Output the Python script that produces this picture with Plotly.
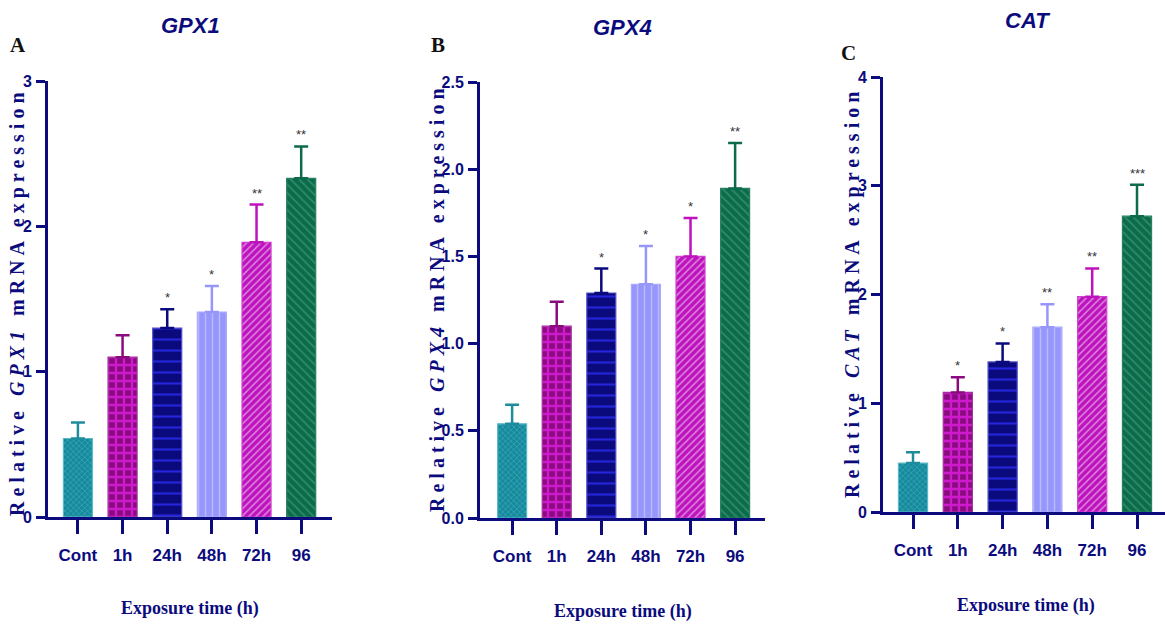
import plotly.graph_objects as go

categories = ["Cont", "1h", "24h", "48h", "72h", "96"]

gpx1_mean = [0.54, 1.10, 1.30, 1.41, 1.89, 2.33]
gpx1_err = [0.11, 0.15, 0.13, 0.18, 0.26, 0.22]
gpx1_sig = ["", "", "*", "*", "**", "**"]

gpx4_mean = [0.54, 1.10, 1.29, 1.34, 1.50, 1.89]
gpx4_err = [0.11, 0.14, 0.14, 0.22, 0.22, 0.26]
gpx4_sig = ["", "", "*", "*", "*", "**"]

cat_mean = [0.45, 1.10, 1.38, 1.70, 1.98, 2.72]
cat_err = [0.10, 0.14, 0.17, 0.21, 0.26, 0.29]
cat_sig = ["", "*", "*", "**", "**", "***"]

NAVY = "#0B0B7E"
bg_colors = ["#17899C", "#8A0B7F", "#0A0A7C", "#9797FB", "#BE12BE", "#0B6B4B"]
fg_colors = ["#35A5B5", "#CC1ACC", "#2424D8", "#B9B9FF", "#DC86DC", "#2E8C68"]
line_colors = ["#5BB8C6", "#A0309A", "#5050C8", "#AAAAFF", "#D040D0", "#2A8060"]
err_colors = ["#1E8C9C", "#8A0B7F", "#0A0A7C", "#9797FB", "#BE12BE", "#0B6B4B"]
shapes = ["x", "+", "-", "|", "/", "\\"]
psizes = [4, 8, 11, 7, 5, 6]
psolid = [0.35, 0.5, 0.2, 0.2, 0.3, 0.3]

panels = [
    dict(mean=gpx1_mean, err=gpx1_err, sig=gpx1_sig, gene="GPX1", letter="A",
         xd=[48/1165, 332/1165], yd=[1-517/627, 1-81/627], xr=[-0.67, 5.69],
         yr=[0, 3], dtick=1, fmt="d",
         title_xy=(190, 25), letter_xy=(18, 45), xt_xy=(190, 608), yt_xy=(18, 302)),
    dict(mean=gpx4_mean, err=gpx4_err, sig=gpx4_sig, gene="GPX4", letter="B",
         xd=[480/1165, 765/1165], yd=[1-518/627, 1-82/627], xr=[-0.72, 5.67],
         yr=[0, 2.5], dtick=0.5, fmt=".1f",
         title_xy=(623, 27), letter_xy=(438, 45), xt_xy=(623, 611), yt_xy=(437, 298)),
    dict(mean=cat_mean, err=cat_err, sig=cat_sig, gene="CAT", letter="C",
         xd=[883/1165, 1.0], yd=[1-512/627, 1-77/627], xr=[-0.67, 5.625],
         yr=[0, 4], dtick=1, fmt="d",
         title_xy=(1027, 20), letter_xy=(848, 53), xt_xy=(1026, 605), yt_xy=(852, 293)),
]

W, H = 1165, 627
fig = go.Figure()
annotations = []
tickfont = dict(family="Liberation Sans, Arial", size=16, color=NAVY, weight="bold")

for p_i, p in enumerate(panels):
    sfx = "" if p_i == 0 else str(p_i + 1)
    xa, ya = "x" + sfx, "y" + sfx
    for i, cat in enumerate(categories):
        fig.add_trace(go.Bar(
            x=[i], y=[p["mean"][i]], width=0.65, xaxis=xa, yaxis=ya,
            marker=dict(color=bg_colors[i], line=dict(color=line_colors[i], width=1.2),
                        pattern=dict(shape=shapes[i], fgcolor=fg_colors[i], bgcolor=bg_colors[i],
                                     size=psizes[i], solidity=psolid[i], fillmode="replace")),
            error_y=dict(type="data", symmetric=False, array=[p["err"][i]], arrayminus=[0],
                         color=err_colors[i], thickness=2.5, width=7),
            showlegend=False, hoverinfo="skip",
        ))
        if p["sig"][i]:
            annotations.append(dict(
                x=i, y=p["mean"][i] + p["err"][i], xref=xa, yref=ya, text=p["sig"][i],
                showarrow=False, yanchor="bottom", yshift=2,
                font=dict(family="Liberation Sans, Arial", size=13, color="#333333")))
    axkey = "xaxis" + sfx
    aykey = "yaxis" + sfx
    fig.update_layout({
        axkey: dict(domain=p["xd"], range=p["xr"], anchor=ya, tickmode="array",
                    tickvals=list(range(len(categories))), ticktext=categories,
                    showline=True, linecolor=NAVY, linewidth=3, ticks="outside",
                    ticklen=14, tickwidth=2.5, tickcolor=NAVY, showgrid=False,
                    zeroline=False, tickfont=dict(tickfont, size=17), ticklabelstandoff=7,
                    automargin=False, fixedrange=True),
        aykey: dict(domain=p["yd"], range=p["yr"], anchor=xa, dtick=p["dtick"], tick0=0,
                    tickformat=p["fmt"], showline=True, linecolor=NAVY, linewidth=3,
                    ticks="outside", ticklen=9, tickwidth=2.5, tickcolor=NAVY,
                    showgrid=False, zeroline=False, tickfont=tickfont, ticklabelstandoff=1,
                    automargin=False, fixedrange=True),
    })
    tx, ty = p["title_xy"]
    annotations.append(dict(x=tx / W, y=1 - ty / H, xref="paper", yref="paper",
                            text="<b><i>%s</i></b>" % p["gene"], showarrow=False,
                            xanchor="center", yanchor="middle",
                            font=dict(family="Liberation Sans, Arial", size=22, color=NAVY)))
    lx, ly = p["letter_xy"]
    annotations.append(dict(x=lx / W, y=1 - ly / H, xref="paper", yref="paper",
                            text="<b>%s</b>" % p["letter"], showarrow=False,
                            xanchor="center", yanchor="middle",
                            font=dict(family="Liberation Serif, Times New Roman, serif", size=21,
                                      color="#111111")))
    xx, xy = p["xt_xy"]
    annotations.append(dict(x=xx / W, y=1 - xy / H, xref="paper", yref="paper",
                            text="<b>Exposure time (h)</b>", showarrow=False,
                            xanchor="center", yanchor="middle",
                            font=dict(family="Liberation Serif, Times New Roman, serif", size=18,
                                      color=NAVY)))
    yx, yy = p["yt_xy"]
    annotations.append(dict(x=yx / W, y=1 - yy / H, xref="paper", yref="paper",
                            text="<span style='letter-spacing:5px'><b>Relative <i>%s</i> mRNA expression</b></span>" % p["gene"],
                            showarrow=False, textangle=-90, xanchor="center", yanchor="middle",
                            font=dict(family="Liberation Serif, Times New Roman, serif", size=20,
                                      color=NAVY)))

fig.update_layout(width=W, height=H, margin=dict(l=0, r=0, t=0, b=0, autoexpand=False),
                  paper_bgcolor="white", plot_bgcolor="white", bargap=0.3,
                  annotations=annotations)

fig.write_html("out.html", config={"displayModeBar": False},
               post_script="document.body.style.margin='0px';")
